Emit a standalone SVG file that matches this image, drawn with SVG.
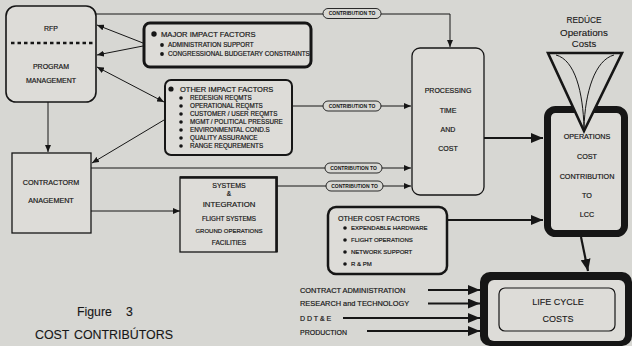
<svg xmlns="http://www.w3.org/2000/svg" width="632" height="346" viewBox="0 0 632 346">
<defs>
<style>
text{font-family:"Liberation Sans",Arial,sans-serif;fill:#161616;stroke:#161616;stroke-width:0.18}
.c{text-anchor:middle}
.cap{stroke-width:0.1}
.box{fill:#dddcd8;stroke:#161616}
.ln{fill:none;stroke:#161616;stroke-width:1}
.thk{fill:none;stroke:#161616;stroke-width:2.2}
.pill{fill:#d8d8d4;stroke:#161616;stroke-width:0.9}
.pt{font-size:5px;font-weight:bold;text-anchor:middle;stroke-width:0}
.b{fill:#161616}
</style>
<marker id="a" markerUnits="userSpaceOnUse" markerWidth="7" markerHeight="6" refX="7" refY="3" orient="auto-start-reverse"><path d="M0,0L7,3L0,6z" fill="#161616"/></marker>
<marker id="big" markerUnits="userSpaceOnUse" markerWidth="12" markerHeight="10" refX="12" refY="5" orient="auto"><path d="M0,0L12,5L0,10z" fill="#161616"/></marker>
</defs>
<rect width="632" height="346" fill="#d7d7d3"/>

<g id="connectors">
<path class="ln" d="M96,14H450V47" marker-end="url(#a)"/>
<path class="ln" d="M292,106H411" marker-end="url(#a)"/>
<path class="ln" d="M91,168H411" marker-end="url(#a)"/>
<path class="ln" d="M277,186H411" marker-end="url(#a)"/>
<path class="ln" d="M91,211H180" marker-end="url(#a)"/>
<path class="ln" d="M48,102V152" marker-end="url(#a)"/>
<path class="ln" d="M143,43L97,25" marker-end="url(#a)"/>
<path class="ln" d="M143,46L97,55" marker-end="url(#a)"/>
<path class="ln" d="M97,67L164,102" marker-start="url(#a)" marker-end="url(#a)"/>
<path class="ln" d="M164,120L92,163" marker-end="url(#a)"/>
<path class="thk" d="M484,138H543" marker-end="url(#big)"/>
<path class="thk" d="M447,220H543" marker-end="url(#big)"/>
<path class="thk" d="M581,237L588,271" marker-end="url(#big)"/>
<path class="thk" d="M428,290H480" marker-end="url(#big)"/>
<path class="thk" d="M428,303.5H480" marker-end="url(#big)"/>
<path class="thk" d="M343,318H480" marker-end="url(#big)"/>
<path class="thk" d="M367,331H480" marker-end="url(#big)"/>
<rect class="pill" x="323" y="8.5" width="58" height="10" rx="5"/>
<text class="pt" x="352" y="15.3">CONTRIBUTION TO</text>
<rect class="pill" x="323" y="101" width="58" height="10" rx="5"/>
<text class="pt" x="352" y="107.8">CONTRIBUTION TO</text>
<rect class="pill" x="325" y="163" width="57" height="10" rx="5"/>
<text class="pt" x="353.5" y="169.8">CONTRIBUTION TO</text>
<rect class="pill" x="326" y="181" width="57" height="10" rx="5"/>
<text class="pt" x="354.5" y="187.8">CONTRIBUTION TO</text>
</g>

<g id="rfp-program-management">
<rect class="box" x="6" y="6" width="90" height="96" rx="10" stroke-width="1.6"/>
<line x1="11" y1="43" x2="95" y2="43" stroke="#161616" stroke-width="2.6" stroke-dasharray="3.5,3"/>
<text class="c" x="51" y="30.5" font-size="7">RFP</text>
<text class="c" x="51" y="68.5" font-size="7">PROGRAM</text>
<text class="c" x="51" y="82.5" font-size="7">MANAGEMENT</text>
</g>

<g id="major-impact-factors">
<rect class="box" x="144" y="23" width="167" height="44" rx="6" stroke-width="3"/>
<circle class="b" cx="154" cy="34" r="2.7"/>
<text x="161" y="36.7" font-size="7.6">MAJOR IMPACT FACTORS</text>
<circle class="b" cx="162" cy="45" r="1.9"/>
<text x="168" y="47.3" font-size="6.3">ADMINISTRATION SUPPORT</text>
<circle class="b" cx="162" cy="54" r="1.9"/>
<text x="168" y="56.3" font-size="6.3">CONGRESSIONAL BUDGETARY CONSTRAINTS</text>
</g>

<g id="other-impact-factors">
<rect class="box" x="165" y="80" width="127" height="75" rx="6" stroke-width="2"/>
<circle class="b" cx="171" cy="89" r="2.6"/>
<text x="180" y="91.7" font-size="7.5">OTHER IMPACT FACTORS</text>
<g font-size="6.3">
<circle class="b" cx="181" cy="98" r="1.8"/><text x="190" y="100.3">REDESIGN REQMTS</text>
<circle class="b" cx="181" cy="106" r="1.8"/><text x="190" y="108.3">OPERATIONAL REQMTS</text>
<circle class="b" cx="181" cy="114" r="1.8"/><text x="190" y="116.3">CUSTOMER / USER REQMTS</text>
<circle class="b" cx="181" cy="122" r="1.8"/><text x="190" y="124.3">MGMT / POLITICAL PRESSURE</text>
<circle class="b" cx="181" cy="130" r="1.8"/><text x="190" y="132.3">ENVIRONMENTAL COND.S</text>
<circle class="b" cx="181" cy="138" r="1.8"/><text x="190" y="140.3">QUALITY ASSURANCE</text>
<circle class="b" cx="181" cy="146" r="1.8"/><text x="190" y="148.3">RANGE REQUREMENTS</text>
</g>
</g>

<g id="contractorm-anagement">
<rect class="box" x="12" y="153" width="79" height="80" stroke-width="1.3"/>
<text class="c" x="51" y="184.6" font-size="7.2">CONTRACTORM</text>
<text class="c" x="51" y="202.6" font-size="7.2">ANAGEMENT</text>
</g>

<g id="systems-integration">
<rect class="box" x="180" y="177" width="97" height="75" stroke-width="1.3"/>
<path d="M180,177.5H276.5V252" fill="none" stroke="#161616" stroke-width="2.6"/>
<text class="c" x="229" y="187.5" font-size="7">SYSTEMS</text>
<text class="c" x="229" y="196.3" font-size="6.5">&amp;</text>
<text class="c" x="229" y="206.8" font-size="7.8">INTEGRATION</text>
<text class="c" x="229" y="221.3" font-size="6.3">FLIGHT SYSTEMS</text>
<text class="c" x="229" y="233.2" font-size="6">GROUND OPERATIONS</text>
<text class="c" x="229" y="245.3" font-size="6.5">FACILITIES</text>
</g>

<g id="processing">
<rect class="box" x="412" y="48" width="72" height="147" rx="8" stroke-width="1.3"/>
<text class="c" x="448" y="92.5" font-size="7">PROCESSING</text>
<text class="c" x="448" y="112.5" font-size="7">TIME</text>
<text class="c" x="448" y="131.5" font-size="7">AND</text>
<text class="c" x="448" y="150.5" font-size="7">COST</text>
</g>

<g id="other-cost-factors">
<rect class="box" x="328" y="207" width="119" height="67" rx="8" stroke-width="2.5"/>
<text x="338" y="220.6" font-size="7.1">OTHER COST FACTORS</text>
<g font-size="6">
<circle class="b" cx="345" cy="228" r="1.8"/><text x="351" y="230.2">EXPENDABLE HARDWARE</text>
<circle class="b" cx="345" cy="240" r="1.8"/><text x="351" y="242.2">FLIGHT OPERATIONS</text>
<circle class="b" cx="345" cy="252" r="1.8"/><text x="351" y="254.2">NETWORK SUPPORT</text>
<circle class="b" cx="345" cy="264" r="1.8"/><text x="351" y="266.2">R &amp; PM</text>
</g>
</g>

<g id="operations-cost">
<rect class="box" x="547.5" y="109.5" width="77" height="124" rx="8" stroke-width="7"/>
<text class="c" x="587" y="138.6" font-size="7.2">OPERATIONS</text>
<text class="c" x="587" y="158.6" font-size="7.2">COST</text>
<text class="c" x="587" y="178.6" font-size="7.2">CONTRIBUTION</text>
<text class="c" x="587" y="197.6" font-size="7.2">TO</text>
<text class="c" x="587" y="216.6" font-size="7.2">LCC</text>
</g>

<g id="reduce-funnel">
<path d="M548,53H622L584,131Z" fill="#d8d8d4" stroke="#161616" stroke-width="2.6" stroke-linejoin="miter"/>
<path d="M556,55C575,60 583,92 584,128M614,55C595,60 585,92 584,128" fill="none" stroke="#161616" stroke-width="1"/>
<text class="c cap" x="584" y="23" font-size="8.3">REDÚCE</text>
<text class="c cap" x="584" y="35.5" font-size="9.8">Operations</text>
<text class="c cap" x="584" y="46.8" font-size="9.5">Costs</text>
</g>

<g id="life-cycle-costs">
<rect x="480" y="272" width="152" height="74" rx="10" fill="#161616"/>
<rect x="488" y="280" width="137" height="61" rx="6" fill="#dddcd8"/>
<rect x="499" y="288" width="116" height="43" rx="6" fill="none" stroke="#161616" stroke-width="1.2"/>
<text class="c cap" x="558" y="305.2" font-size="9">LIFE CYCLE</text>
<text class="c cap" x="558" y="322" font-size="9">COSTS</text>
</g>

<g id="inputs">
<text x="300" y="292.7" font-size="7.4">CONTRACT ADMINISTRATION</text>
<text x="300" y="306.4" font-size="7.4">RESEARCH and TECHNOLOGY</text>
<text x="300" y="320.5" font-size="7">D D T &amp; E</text>
<text x="300" y="334.5" font-size="7">PRODUCTION</text>
</g>

<g id="caption">
<text class="cap" x="77" y="316.3" font-size="12.3">Figure<tspan x="126">3</tspan></text>
<text class="cap" x="35" y="338.5" font-size="12.4">COST<tspan x="74">CONTRIBÚTORS</tspan></text>
</g>
</svg>
